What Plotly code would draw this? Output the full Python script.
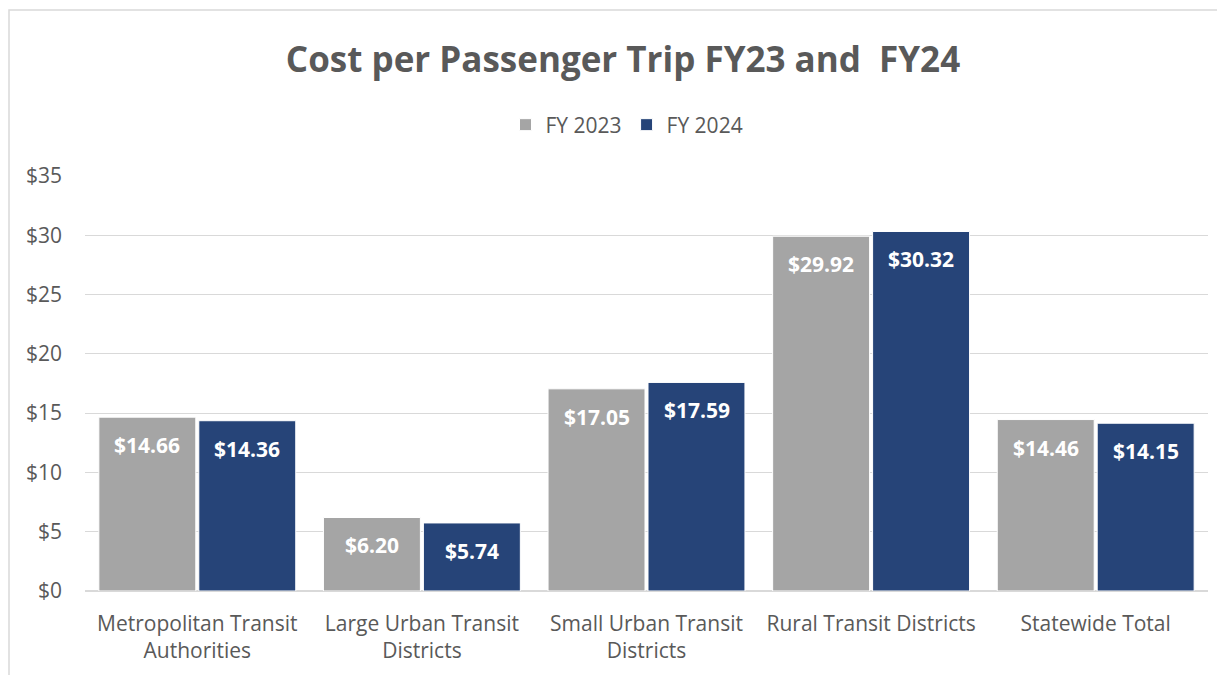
import plotly.graph_objects as go

categories = ["Metropolitan Transit<br>Authorities", "Large Urban Transit<br>Districts",
              "Small Urban Transit<br>Districts", "Rural Transit Districts", "Statewide Total"]
fy2023 = [14.66, 6.20, 17.05, 29.92, 14.46]
fy2024 = [14.36, 5.74, 17.59, 30.32, 14.15]
y_ticks = [0, 5, 10, 15, 20, 25, 30, 35]
y_labels = ["$" + str(v) for v in y_ticks]

FONT = "Open Sans"
GRAY_TXT = "#595959"
W, H = 1225, 675
ML, MR, MT, MB = 77, 25, 168, 92

series = [("FY 2023", fy2023, "#A5A5A5", -50), ("FY 2024", fy2024, "#264478", 50)]

fig = go.Figure()
for name, vals, color, _ in series:
    fig.add_trace(go.Bar(
        name=name, x=categories, y=vals,
        marker=dict(color=color, line=dict(color="white", width=1)),
        hoverinfo="x+y",
    ))

annotations = []
for name, vals, color, dx in series:
    for c, v in zip(categories, vals):
        annotations.append(dict(
            x=c, y=v, xref="x", yref="y", text=f"<b>${v:.2f}</b>",
            showarrow=False, xshift=dx, yshift=-28, yanchor="middle",
            font=dict(family=FONT, size=21, color="white")))

fig.update_layout(
    width=W, height=H,
    paper_bgcolor="white", plot_bgcolor="white",
    margin=dict(l=ML, r=MR, t=MT, b=MB, autoexpand=False),
    barmode="group", bargap=0.11, bargroupgap=0.03,
    font=dict(family=FONT, color=GRAY_TXT),
    title=dict(text="<b>Cost per Passenger Trip FY23 and  FY24</b>",
               x=615/W, xanchor="center", xref="container",
               y=1-52/H, yanchor="middle", yref="container",
               font=dict(family=FONT, size=35, color=GRAY_TXT)),
    legend=dict(orientation="h", x=619/W, xanchor="center", xref="container",
                y=1-117/H, yanchor="middle", yref="container",
                font=dict(family=FONT, size=21, color=GRAY_TXT),
                itemwidth=30, traceorder="normal"),
    showlegend=True,
    annotations=annotations,
)
fig.update_yaxes(range=[0, 35], tickvals=y_ticks, ticktext=y_labels,
                 showgrid=True, gridcolor="#D9D9D9", gridwidth=1,
                 zeroline=True, zerolinecolor="#D9D9D9", zerolinewidth=1.5,
                 showline=False, ticks="", ticklabelstandoff=22,
                 tickfont=dict(family=FONT, size=21, color=GRAY_TXT))
fig.update_xaxes(showline=False, ticks="", ticklabelstandoff=18,
                 tickfont=dict(family=FONT, size=21, color=GRAY_TXT))

# outer chart frame
pw, ph = W - ML - MR, H - MT - MB
fig.add_shape(type="rect", xref="paper", yref="paper",
              x0=(1-ML)/pw, x1=(W+20-ML)/pw,
              y0=-(MB+20)/ph, y1=(H-MB-2)/ph,
              line=dict(color="#D9D9D9", width=1.5), fillcolor="rgba(0,0,0,0)", layer="below")

fig.write_html("out.html")
